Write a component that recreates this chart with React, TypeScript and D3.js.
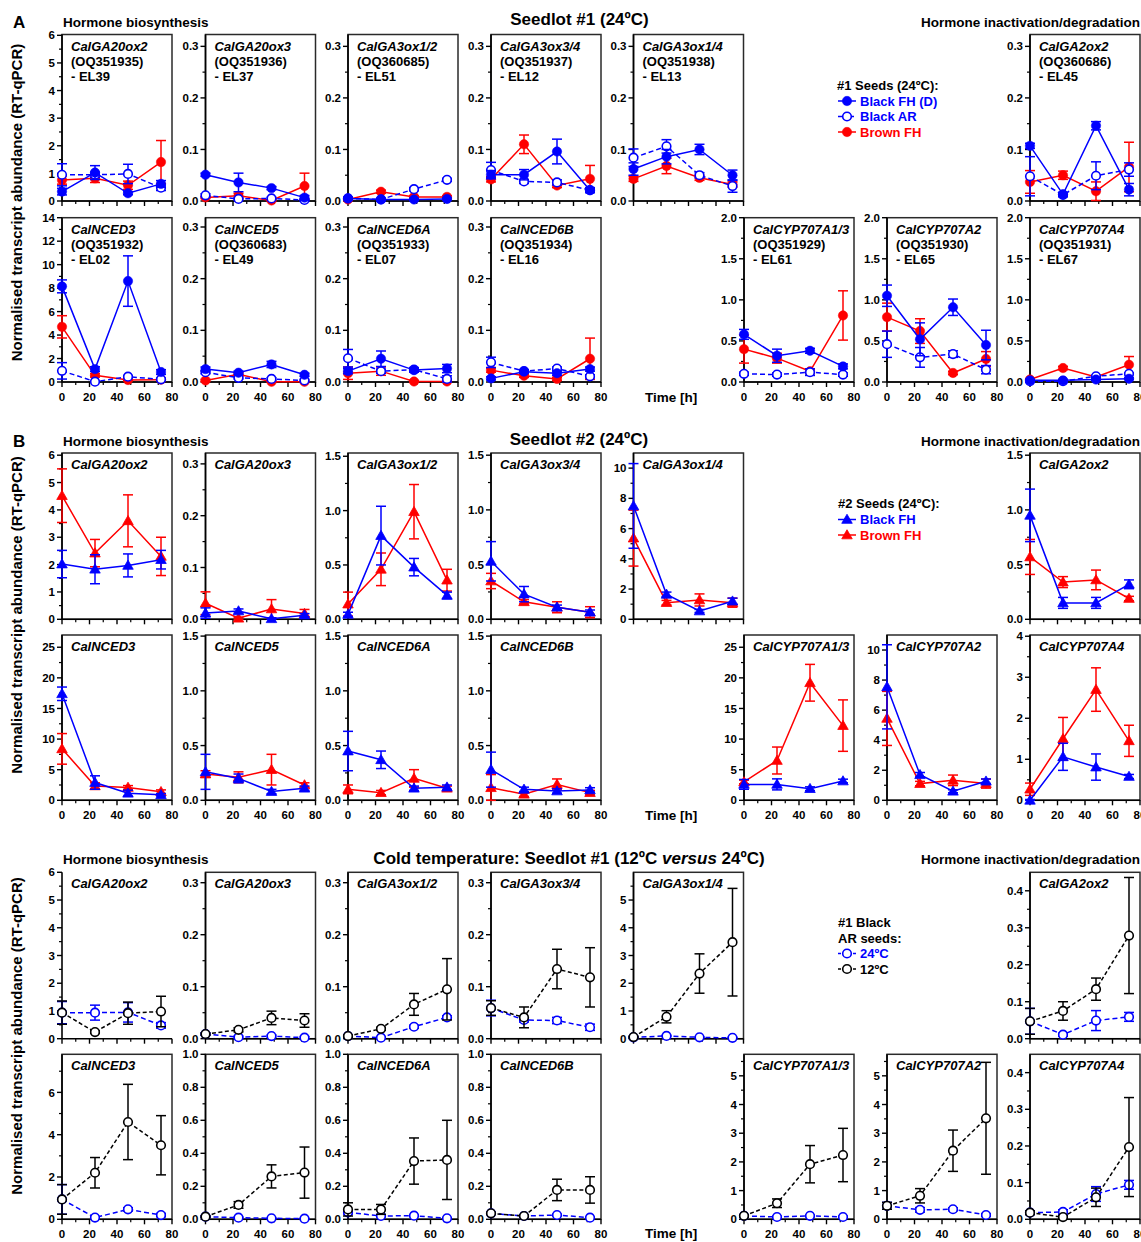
import React from "react";
import * as d3 from "d3";

// ---------------- DATA ----------------
const times = [0, 24, 48, 72];

const genes = [
  "CalGA20ox2", "CalGA20ox3", "CalGA3ox1/2", "CalGA3ox3/4", "CalGA3ox1/4", "CalGA2ox2",
  "CalNCED3", "CalNCED5", "CalNCED6A", "CalNCED6B", "CalCYP707A1/3", "CalCYP707A2", "CalCYP707A4",
];
const accessions = [
  "OQ351935", "OQ351936", "OQ360685", "OQ351937", "OQ351938", "OQ360686",
  "OQ351932", "OQ360683", "OQ351933", "OQ351934", "OQ351929", "OQ351930", "OQ351931",
];
const elCodes = ["EL39", "EL37", "EL51", "EL12", "EL13", "EL45", "EL02", "EL49", "EL07", "EL16", "EL61", "EL65", "EL67"];

// y-axis spec per panel: [domain top, major step, last labelled tick, minor step, decimals]
const axesA = [
  [6.03, 1, 6, 0.5, 0], [0.323, 0.1, 0.3, 0.05, 1], [0.323, 0.1, 0.3, 0.05, 1], [0.323, 0.1, 0.3, 0.05, 1],
  [0.323, 0.1, 0.3, 0.05, 1], [0.323, 0.1, 0.3, 0.05, 1],
  [14, 2, 14, 1, 0], [0.318, 0.1, 0.3, 0.05, 1], [0.318, 0.1, 0.3, 0.05, 1], [0.318, 0.1, 0.3, 0.05, 1],
  [2, 0.5, 2, 0.25, 1], [2, 0.5, 2, 0.25, 1], [2, 0.5, 2, 0.25, 1],
];
const axesB = [
  [6.08, 1, 6, 0.5, 0], [0.321, 0.1, 0.3, 0.05, 1], [1.53, 0.5, 1.5, 0.25, 1], [1.52, 0.5, 1.5, 0.25, 1],
  [11, 2, 10, 1, 0], [1.52, 0.5, 1.5, 0.25, 1],
  [27, 5, 25, 2.5, 0], [1.51, 0.5, 1.5, 0.25, 1], [1.51, 0.5, 1.5, 0.25, 1], [1.51, 0.5, 1.5, 0.25, 1],
  [27, 5, 25, 2.5, 0], [11, 2, 10, 1, 0], [4.03, 1, 4, 0.5, 0],
];
const axesC = [
  [6, 1, 6, 0.5, 0], [0.32, 0.1, 0.3, 0.05, 1], [0.32, 0.1, 0.3, 0.05, 1], [0.32, 0.1, 0.3, 0.05, 1],
  [6, 1, 5, 0.5, 0], [0.45, 0.1, 0.4, 0.05, 1],
  [7.8, 2, 6, 1, 0], [1, 0.2, 1, 0.1, 1], [1, 0.2, 1, 0.1, 1], [1, 0.2, 1, 0.1, 1],
  [5.75, 1, 5, 0.5, 0], [5.75, 1, 5, 0.5, 0], [0.45, 0.1, 0.4, 0.05, 1],
];

// Seedlot #1 (24ºC)
const aBlackFH = [
  [0.34, 1.03, 0.28, 0.62], [0.051, 0.036, 0.025, 0.0065], [0.005, 0.003, 0.003, 0.004], [0.051, 0.051, 0.096, 0.021],
  [0.062, 0.086, 0.1, 0.05], [0.107, 0.013, 0.146, 0.022],
  [8.15, 1.1, 8.6, 0.85], [0.025, 0.018, 0.034, 0.014], [0.021, 0.045, 0.023, 0.026], [0.007, 0.02, 0.017, 0.025],
  [0.58, 0.32, 0.38, 0.19], [1.05, 0.52, 0.91, 0.45], [0.02, 0.02, 0.03, 0.04],
];
const aBlackFHErr = [
  [0.12, 0.25, 0.05, 0.12], [0.003, 0.018, 0.003, 0.004], [0.002, 0.002, 0.002, 0.002], [0.008, 0.01, 0.024, 0.005],
  [0.012, 0.014, 0.01, 0.01], [0.005, 0.003, 0.008, 0.012],
  [0.55, 0.2, 2.15, 0.2], [0.004, 0.003, 0.006, 0.003], [0.005, 0.015, 0.004, 0.008], [0.003, 0.003, 0.004, 0.004],
  [0.06, 0.08, 0.03, 0.03], [0.13, 0.2, 0.1, 0.18], [0.01, 0.01, 0.01, 0.01],
];
const aBlackAR = [
  [0.95, 0.95, 0.98, 0.48], [0.011, 0.004, 0.005, 0.002], [0.005, 0.003, 0.023, 0.041], [0.06, 0.038, 0.036, 0.021],
  [0.084, 0.106, 0.05, 0.029], [0.048, 0.012, 0.049, 0.061],
  [0.95, 0.03, 0.45, 0.23], [0.019, 0.008, 0.006, 0.003], [0.046, 0.021, 0.024, 0.006], [0.038, 0.021, 0.026, 0.011],
  [0.1, 0.09, 0.12, 0.09], [0.46, 0.3, 0.34, 0.15], [0.01, 0.01, 0.07, 0.1],
];
const aBlackARErr = [
  [0.4, 0.1, 0.35, 0.1], [0.003, 0.002, 0.002, 0.002], [0.002, 0.002, 0.003, 0.003], [0.015, 0.004, 0.005, 0.004],
  [0.017, 0.013, 0.005, 0.012], [0.038, 0.004, 0.027, 0.013],
  [0.7, 0.05, 0.1, 0.1], [0.003, 0.002, 0.002, 0.002], [0.017, 0.004, 0.004, 0.006], [0.01, 0.003, 0.003, 0.003],
  [0.02, 0.02, 0.04, 0.02], [0.16, 0.12, 0.04, 0.05], [0.01, 0.01, 0.01, 0.01],
];
const aBrownFH = [
  [0.76, 0.82, 0.57, 1.41], [0.007, 0.01, 0.001, 0.029], [0.003, 0.018, 0.008, 0.008], [0.042, 0.11, 0.03, 0.043],
  [0.043, 0.068, 0.045, 0.032], [0.037, 0.05, 0.019, 0.066],
  [4.7, 0.57, 0.17, 0.2], [0.003, 0.015, 0.0005, 0.0005], [0.017, 0.021, 0.001, 0.001], [0.023, 0.012, 0.006, 0.045],
  [0.4, 0.29, 0.13, 0.81], [0.79, 0.62, 0.11, 0.28], [0.03, 0.17, 0.06, 0.21],
];
const aBrownFHErr = [
  [0.15, 0.15, 0.15, 0.78], [0.002, 0.005, 0.001, 0.025], [0.002, 0.003, 0.002, 0.002], [0.005, 0.018, 0.004, 0.026],
  [0.005, 0.015, 0.005, 0.005], [0.022, 0.008, 0.018, 0.048],
  [0.95, 0.15, 0.05, 0.05], [0.002, 0.003, 0.001, 0.001], [0.012, 0.008, 0.002, 0.002], [0.004, 0.003, 0.003, 0.04],
  [0.17, 0.06, 0.03, 0.3], [0.17, 0.15, 0.02, 0.09], [0.01, 0.02, 0.01, 0.1],
];

// Seedlot #2 (24ºC)
const bBlackFH = [
  [2.02, 1.83, 1.97, 2.18], [0.012, 0.016, 0.001, 0.008], [0.045, 0.77, 0.48, 0.22], [0.53, 0.23, 0.11, 0.065],
  [7.5, 1.65, 0.55, 1.2], [0.95, 0.15, 0.15, 0.32],
  [17.4, 2.9, 1.15, 0.9], [0.26, 0.2, 0.08, 0.11], [0.45, 0.37, 0.11, 0.12], [0.28, 0.1, 0.085, 0.095],
  [2.6, 2.6, 1.9, 3.15], [7.55, 1.7, 0.6, 1.27], [0, 1.06, 0.81, 0.58],
];
const bBlackFHErr = [
  [0.5, 0.53, 0.42, 0.34], [0.01, 0.004, 0.002, 0.003], [0.02, 0.27, 0.08, 0.03], [0.18, 0.07, 0.02, 0.02],
  [2.8, 0.15, 0.1, 0.2], [0.24, 0.05, 0.05, 0.04],
  [1.1, 1.1, 0.5, 0.2], [0.16, 0.04, 0.02, 0.02], [0.18, 0.08, 0.02, 0.02], [0.16, 0.02, 0.02, 0.02],
  [0.8, 0.9, 0.3, 0.3], [2.8, 0.15, 0.1, 0.15], [0.02, 0.33, 0.32, 0.05],
];
const bBrownFH = [
  [4.52, 2.42, 3.6, 2.3], [0.031, 0.002, 0.02, 0.011], [0.14, 0.46, 0.99, 0.36], [0.35, 0.16, 0.11, 0.065],
  [5.37, 1.1, 1.28, 1.1], [0.57, 0.34, 0.36, 0.19],
  [8.4, 2.35, 2.1, 1.4], [0.24, 0.21, 0.28, 0.14], [0.1, 0.07, 0.2, 0.11], [0.115, 0.055, 0.145, 0.07],
  [3.0, 6.5, 19.2, 12.2], [5.45, 1.11, 1.33, 1.11], [0.27, 1.5, 2.7, 1.45],
];
const bBrownFHErr = [
  [0.98, 0.5, 0.95, 0.7], [0.022, 0.002, 0.018, 0.008], [0.11, 0.15, 0.25, 0.1], [0.07, 0.02, 0.05, 0.05],
  [1.85, 0.15, 0.4, 0.3], [0.16, 0.05, 0.09, 0.02],
  [2.5, 0.5, 0.3, 0.3], [0.03, 0.05, 0.14, 0.02], [0.04, 0.02, 0.08, 0.02], [0.12, 0.02, 0.05, 0.02],
  [0.3, 2.2, 3.0, 4.2], [1.8, 0.15, 0.35, 0.3], [0.15, 0.52, 0.53, 0.38],
];

// Cold temperature: Seedlot #1 Black AR (24ºC vs 12ºC)
const c24 = [
  [0.94, 0.94, 0.95, 0.48], [0.009, 0.003, 0.005, 0.002], [0.005, 0.002, 0.023, 0.041], [0.059, 0.036, 0.035, 0.022],
  [0.05, 0.1, 0.05, 0.03], [0.047, 0.011, 0.049, 0.059],
  [0.94, 0.08, 0.47, 0.2], [0.016, 0.01, 0.006, 0.004], [0.042, 0.02, 0.022, 0.006], [0.036, 0.02, 0.026, 0.01],
  [0.12, 0.08, 0.12, 0.08], [0.47, 0.33, 0.35, 0.15], [0.018, 0.02, 0.069, 0.094],
];
const c24Err = [
  [0.4, 0.27, 0.35, 0.1], [0.002, 0.002, 0.002, 0.002], [0.002, 0.002, 0.003, 0.003], [0.015, 0.004, 0.006, 0.006],
  [0.02, 0.02, 0.02, 0.02], [0.035, 0.004, 0.027, 0.012],
  [0.7, 0.05, 0.08, 0.08], [0.004, 0.004, 0.003, 0.002], [0.01, 0.005, 0.004, 0.004], [0.005, 0.004, 0.005, 0.004],
  [0.03, 0.03, 0.03, 0.03], [0.12, 0.08, 0.05, 0.05], [0.005, 0.006, 0.02, 0.012],
];
const c12 = [
  [0.94, 0.24, 0.92, 0.98], [0.009, 0.017, 0.04, 0.035], [0.005, 0.019, 0.066, 0.095], [0.059, 0.041, 0.134, 0.118],
  [0.06, 0.79, 2.35, 3.48], [0.047, 0.075, 0.134, 0.279],
  [0.94, 2.2, 4.6, 3.5], [0.016, 0.087, 0.26, 0.283], [0.06, 0.06, 0.353, 0.36], [0.036, 0.02, 0.178, 0.178],
  [0.12, 0.56, 1.92, 2.24], [0.47, 0.82, 2.39, 3.52], [0.018, 0.006, 0.06, 0.197],
];
const c12Err = [
  [0.42, 0.05, 0.4, 0.55], [0.002, 0.004, 0.013, 0.013], [0.002, 0.003, 0.021, 0.059], [0.014, 0.02, 0.038, 0.057],
  [0.03, 0.22, 0.71, 1.94], [0.035, 0.025, 0.03, 0.157],
  [0.7, 0.72, 1.78, 1.4], [0.005, 0.02, 0.07, 0.155], [0.04, 0.03, 0.14, 0.24], [0.005, 0.004, 0.065, 0.08],
  [0.03, 0.15, 0.65, 0.93], [0.12, 0.25, 0.72, 1.95], [0.005, 0.004, 0.025, 0.135],
];

const xTicksMajor = [0, 20, 40, 60, 80];
const xTicksMinor = [10, 30, 50, 70];

// ---------------- LAYOUT ----------------
const W = 1141;
const H = 1242;
const FONT = "'Liberation Sans', Arial, Helvetica, sans-serif";
const BLUE = "#0000ff";
const RED = "#ff0000";
const BLACK = "#000000";
const colLeft = [62, 205.5, 348, 491, 633.5, 744, 887, 1030];
const panelCol = [0, 1, 2, 3, 4, 7, 0, 1, 2, 3, 5, 6, 7];
const panelRow = [0, 0, 0, 0, 0, 0, 1, 1, 1, 1, 1, 1, 1];
const PW = 110;
const rowBounds = [
  [34.5, 201], [217.7, 382],
  [453, 619.3], [635, 800.3],
  [872.3, 1038.7], [1054.3, 1219.3],
];

type Series = {
  means: number[];
  errs: number[];
  color: string;
  dash?: string;
  marker: "dot" | "open" | "tri";
};

function Marker({ kind, cx, cy, color }: { kind: string; cx: number; cy: number; color: string }) {
  if (kind === "tri") {
    const p = d3.symbol().type(d3.symbolTriangle).size(48)();
    return <path d={p || ""} transform={`translate(${cx},${cy + 0.8})`} fill={color} stroke={color} strokeWidth={0.8} />;
  }
  if (kind === "open") {
    return <circle cx={cx} cy={cy} r={4.3} fill="#fff" stroke={color} strokeWidth={1.6} />;
  }
  return <circle cx={cx} cy={cy} r={4.7} fill={color} stroke={color} strokeWidth={0.5} />;
}

function Panel(props: {
  left: number; top: number; bottom: number; axis: number[]; gene: string; lines: string[];
  series: Series[]; xLabels: boolean; box: boolean;
}) {
  const { left, top, bottom, axis, gene, lines, series, xLabels, box } = props;
  const [yTop, major, labelMax, minor, dec] = axis;
  const x = d3.scaleLinear().domain([0, 80]).range([left, left + PW]);
  const y = d3.scaleLinear().domain([0, yTop]).range([bottom, top]);
  const nMaj = Math.round(labelMax / major);
  const majors = d3.range(0, nMaj + 1).map((i) => i * major);
  const minors: number[] = [];
  for (let k = 1; k * minor < yTop * 0.998; k++) {
    const v = k * minor;
    const r = v / major;
    if (Math.abs(r - Math.round(r)) < 1e-6 && v <= labelMax + 1e-9) continue;
    minors.push(v);
  }
  const fmt = (v: number) => (dec === 0 ? String(Math.round(v)) : v.toFixed(dec));
  const line = d3.line<number>().x((_, i) => x(times[i])).y((d) => y(d));
  return (
    <g>
      {box && (
        <rect x={left} y={top} width={PW} height={bottom - top} fill="none" stroke="#2a2a2a" strokeWidth={1.5} />
      )}
      {/* y axis */}
      <line x1={left} x2={left} y1={bottom} y2={top} stroke="#000" strokeWidth={1.6} />
      {majors.map((v) => (
        <g key={"M" + v}>
          <line x1={left - 5} x2={left} y1={y(v)} y2={y(v)} stroke="#000" strokeWidth={1.4} />
          <text x={left - 7} y={y(v)} dy="0.36em" textAnchor="end" fontSize={11.5} fontWeight="bold" fontFamily={FONT}>
            {fmt(v)}
          </text>
        </g>
      ))}
      {minors.map((v) => (
        <line key={"m" + v} x1={left - 3} x2={left} y1={y(v)} y2={y(v)} stroke="#000" strokeWidth={1.2} />
      ))}
      {/* x axis */}
      <line x1={left} x2={left + PW} y1={bottom} y2={bottom} stroke="#000" strokeWidth={1.6} />
      {xTicksMajor.map((v) => (
        <g key={"xM" + v}>
          <line x1={x(v)} x2={x(v)} y1={bottom} y2={bottom + 5} stroke="#000" strokeWidth={1.4} />
          {xLabels && (
            <text x={x(v)} y={bottom + 18.5} textAnchor="middle" fontSize={11.5} fontWeight="bold" fontFamily={FONT}>
              {v}
            </text>
          )}
        </g>
      ))}
      {xTicksMinor.map((v) => (
        <line key={"xm" + v} x1={x(v)} x2={x(v)} y1={bottom} y2={bottom + 3} stroke="#000" strokeWidth={1.2} />
      ))}
      {/* gene label */}
      <text x={left + 9} y={top + 16} fontSize={13} fontWeight="bold" fontStyle="italic" fontFamily={FONT}>
        {gene}
      </text>
      {lines.map((t, i) => (
        <text key={t} x={left + 9} y={top + 31.5 + i * 15} fontSize={13} fontWeight="bold" fontFamily={FONT}>
          {t}
        </text>
      ))}
      {/* series */}
      {series.map((s, si) => (
        <g key={si}>
          <path d={line(s.means) || ""} fill="none" stroke={s.color} strokeWidth={1.5} strokeDasharray={s.dash} />
          {s.means.map((m, i) => {
            const e = s.errs[i];
            const xi = x(times[i]);
            const hi = y(Math.min(m + e, yTop));
            const lo = y(Math.max(m - e, 0));
            return (
              <g key={i} stroke={s.color} strokeWidth={1.5}>
                <line x1={xi} x2={xi} y1={hi} y2={lo} />
                <line x1={xi - 5} x2={xi + 5} y1={hi} y2={hi} />
                <line x1={xi - 5} x2={xi + 5} y1={lo} y2={lo} />
              </g>
            );
          })}
          {s.means.map((m, i) => (
            <Marker key={"k" + i} kind={s.marker} cx={x(times[i])} cy={y(m)} color={s.color} />
          ))}
        </g>
      ))}
    </g>
  );
}

function LegendItem(props: { x: number; y: number; color: string; dash?: string; marker: string; label: string }) {
  const { x, y, color, dash, marker, label } = props;
  const cy = y - 4.5;
  return (
    <g>
      <line x1={x} x2={x + 18} y1={cy} y2={cy} stroke={color} strokeWidth={1.5} strokeDasharray={dash} />
      <Marker kind={marker} cx={x + 9} cy={cy} color={color} />
      <text x={x + 22} y={y} fontSize={13} fontWeight="bold" fontFamily={FONT} fill={color}>
        {label}
      </text>
    </g>
  );
}

function SectionHeader(props: { y: number; letter?: string; title: React.ReactNode }) {
  const { y, letter, title } = props;
  return (
    <g fontFamily={FONT} fontWeight="bold">
      {letter && (
        <text x={13} y={y + 2.5} fontSize={17}>
          {letter}
        </text>
      )}
      <text x={63} y={y + 1.5} fontSize={13.5}>
        Hormone biosynthesis
      </text>
      {title}
      <text x={1140} y={y + 1.5} fontSize={13.5} textAnchor="end">
        Hormone inactivation/degradation
      </text>
    </g>
  );
}

export default function App() {
  const sections = [
    {
      rows: [0, 1],
      axes: axesA,
      box: () => true,
      showAcc: true,
      series: (g: number): Series[] => [
        { means: aBrownFH[g], errs: aBrownFHErr[g], color: RED, marker: "dot" },
        { means: aBlackAR[g], errs: aBlackARErr[g], color: BLUE, marker: "open", dash: "5,3" },
        { means: aBlackFH[g], errs: aBlackFHErr[g], color: BLUE, marker: "dot" },
      ],
    },
    {
      rows: [2, 3],
      axes: axesB,
      box: () => true,
      showAcc: false,
      series: (g: number): Series[] => [
        { means: bBrownFH[g], errs: bBrownFHErr[g], color: RED, marker: "tri" },
        { means: bBlackFH[g], errs: bBlackFHErr[g], color: BLUE, marker: "tri" },
      ],
    },
    {
      rows: [4, 5],
      axes: axesC,
      box: (g: number) => g !== 0,
      showAcc: false,
      series: (g: number): Series[] => [
        { means: c24[g], errs: c24Err[g], color: BLUE, marker: "open", dash: "5,3" },
        { means: c12[g], errs: c12Err[g], color: BLACK, marker: "open", dash: "4,2.5" },
      ],
    },
  ];

  const yLabel = "Normalised transcript abundance (RT-qPCR)";
  const yLabelCenters = [202.5, 615, 1036];
  const timeLabelY = [401.5, 819.5, 1238];

  return (
    <svg
      width={W}
      height={H}
      viewBox={`0 0 ${W} ${H}`}
      style={{ position: "absolute", left: 0, top: 0, display: "block", background: "#fff" }}
      fontFamily={FONT}
    >
      <rect x={0} y={0} width={W} height={H} fill="#fff" />
      {sections.map((sec, si) => (
        <g key={si}>
          {genes.map((gene, g) => {
            const [top, bottom] = rowBounds[sec.rows[panelRow[g]]];
            return (
              <Panel
                key={gene}
                left={colLeft[panelCol[g]]}
                top={top}
                bottom={bottom}
                axis={sec.axes[g]}
                gene={gene}
                lines={sec.showAcc ? [`(${accessions[g]})`, `- ${elCodes[g]}`] : []}
                series={sec.series(g)}
                xLabels={panelRow[g] === 1}
                box={sec.box(g)}
              />
            );
          })}
          <text
            transform={`translate(22,${yLabelCenters[si]}) rotate(-90)`}
            textAnchor="middle"
            fontSize={15}
            fontWeight="bold"
          >
            {yLabel}
          </text>
          <text x={645} y={timeLabelY[si]} fontSize={13.5} fontWeight="bold">
            Time [h]
          </text>
        </g>
      ))}

      <SectionHeader
        y={25}
        letter="A"
        title={
          <text x={579.5} y={25} textAnchor="middle" fontSize={17}>
            Seedlot #1 (24ºC)
          </text>
        }
      />
      <SectionHeader
        y={444.5}
        letter="B"
        title={
          <text x={579} y={444.5} textAnchor="middle" fontSize={17}>
            Seedlot #2 (24ºC)
          </text>
        }
      />
      <SectionHeader
        y={862.5}
        title={
          <text x={569} y={864} textAnchor="middle" fontSize={17}>
            {"Cold temperature: Seedlot #1 (12ºC "}
            <tspan fontStyle="italic">versus</tspan>
            {" 24ºC)"}
          </text>
        }
      />

      {/* Legends */}
      <g fontFamily={FONT} fontWeight="bold">
        <text x={837} y={90} fontSize={13}>
          #1 Seeds (24ºC):
        </text>
        <LegendItem x={838} y={105.5} color={BLUE} marker="dot" label="Black FH (D)" />
        <LegendItem x={838} y={121} color={BLUE} marker="open" dash="4,2" label="Black AR" />
        <LegendItem x={838} y={136.5} color={RED} marker="dot" label="Brown FH" />

        <text x={838} y={508} fontSize={13}>
          #2 Seeds (24ºC):
        </text>
        <LegendItem x={838} y={524} color={BLUE} marker="tri" label="Black FH" />
        <LegendItem x={838} y={539.5} color={RED} marker="tri" label="Brown FH" />

        <text x={838} y={927} fontSize={13}>
          #1 Black
        </text>
        <text x={838} y={942.5} fontSize={13}>
          AR seeds:
        </text>
        <LegendItem x={838} y={958} color={BLUE} marker="open" dash="3,2" label="24ºC" />
        <LegendItem x={838} y={973.5} color={BLACK} marker="open" dash="3,2" label="12ºC" />
      </g>
    </svg>
  );
}
